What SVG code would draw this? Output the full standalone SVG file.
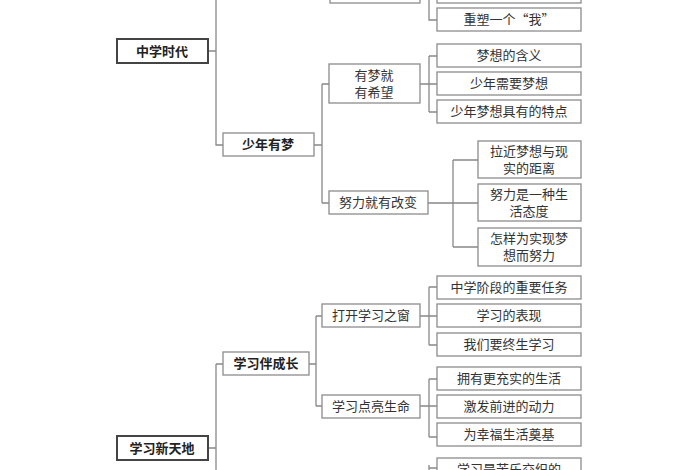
<svg xmlns="http://www.w3.org/2000/svg" width="700" height="470" viewBox="0 0 700 470">
<style>
rect{fill:#fff;stroke:#8c8c8c;stroke-width:1.3}
rect.r{stroke:#444;stroke-width:2}
text{font-family:"Noto Sans CJK SC",sans-serif;font-size:13px;fill:#333;text-anchor:middle}
text.b{font-weight:bold;fill:#222}
.c path{fill:none;stroke:#888;stroke-width:1.3}
</style>
<rect width="700" height="470" fill="#fff" stroke="none" style="fill:#fff;stroke:none"/>
<g class="c">
<path d="M208 51H216M216 0V145H223M314 145H322M322 84V203M322 84H329M322 203H329"/>
<path d="M429 0V20H437M420 -8H437"/>
<path d="M420 84H437M429 56V112M429 56H437M429 112H437"/>
<path d="M428 203H478M453 160V247M453 160H478M453 247H478"/>
<path d="M208 448H216M216 364V470M216 364H223M309 364H316M316 316V406M316 316H322M316 406H322"/>
<path d="M420 316H437M429 287V345M429 287H437M429 345H437"/>
<path d="M420 406H437M429 379V437M429 379H437M429 437H437"/>
<path d="M429 465V470M429 468H437"/>
</g>
<g id="top1"><rect x="330" y="-20" width="90" height="23"/></g>
<g id="top2"><rect x="437" y="-20" width="144" height="23"/></g>
<g id="n1"><rect x="437" y="8" width="144" height="23"/><text x="509" y="24">重塑一个“我”</text></g>
<g id="root1"><rect class="r" x="117" y="39" width="91" height="24"/><text class="b" x="162" y="56">中学时代</text></g>
<g id="sn"><rect x="223" y="133" width="91" height="23"/><text class="b" x="268" y="149">少年有梦</text></g>
<g id="ym"><rect x="329" y="64" width="91" height="39"/><text x="374" y="80">有梦就</text><text x="374" y="97">有希望</text></g>
<g id="nl"><rect x="329" y="191" width="99" height="23"/><text x="378" y="207">努力就有改变</text></g>
<g id="l1"><rect x="437" y="44" width="144" height="23"/><text x="509" y="60">梦想的含义</text></g>
<g id="l2"><rect x="437" y="72" width="144" height="23"/><text x="509" y="88">少年需要梦想</text></g>
<g id="l3"><rect x="437" y="100" width="144" height="23"/><text x="509" y="116">少年梦想具有的特点</text></g>
<g id="l4"><rect x="478" y="141" width="103" height="37"/><text x="529" y="156">拉近梦想与现</text><text x="529" y="173">实的距离</text></g>
<g id="l5"><rect x="478" y="184" width="103" height="37"/><text x="529" y="199">努力是一种生</text><text x="529" y="216">活态度</text></g>
<g id="l6"><rect x="478" y="228" width="103" height="38"/><text x="529" y="243">怎样为实现梦</text><text x="529" y="260">想而努力</text></g>
<g id="root2"><rect class="r" x="117" y="436" width="91" height="24"/><text class="b" x="162" y="453">学习新天地</text></g>
<g id="xb"><rect x="223" y="352" width="86" height="23"/><text class="b" x="266" y="368">学习伴成长</text></g>
<g id="dk"><rect x="322" y="304" width="98" height="23"/><text x="371" y="320">打开学习之窗</text></g>
<g id="xd"><rect x="322" y="395" width="98" height="23"/><text x="371" y="411">学习点亮生命</text></g>
<g id="m1"><rect x="437" y="276" width="144" height="23"/><text x="509" y="292">中学阶段的重要任务</text></g>
<g id="m2"><rect x="437" y="304" width="144" height="23"/><text x="509" y="320">学习的表现</text></g>
<g id="m3"><rect x="437" y="333" width="144" height="23"/><text x="509" y="349">我们要终生学习</text></g>
<g id="m4"><rect x="437" y="367" width="144" height="23"/><text x="509" y="383">拥有更充实的生活</text></g>
<g id="m5"><rect x="437" y="395" width="144" height="23"/><text x="509" y="411">激发前进的动力</text></g>
<g id="m6"><rect x="437" y="423" width="144" height="23"/><text x="509" y="439">为幸福生活奠基</text></g>
<g id="m7"><rect x="437" y="458" width="144" height="30"/><text x="509" y="474">学习是苦乐交织的</text></g>
</svg>
